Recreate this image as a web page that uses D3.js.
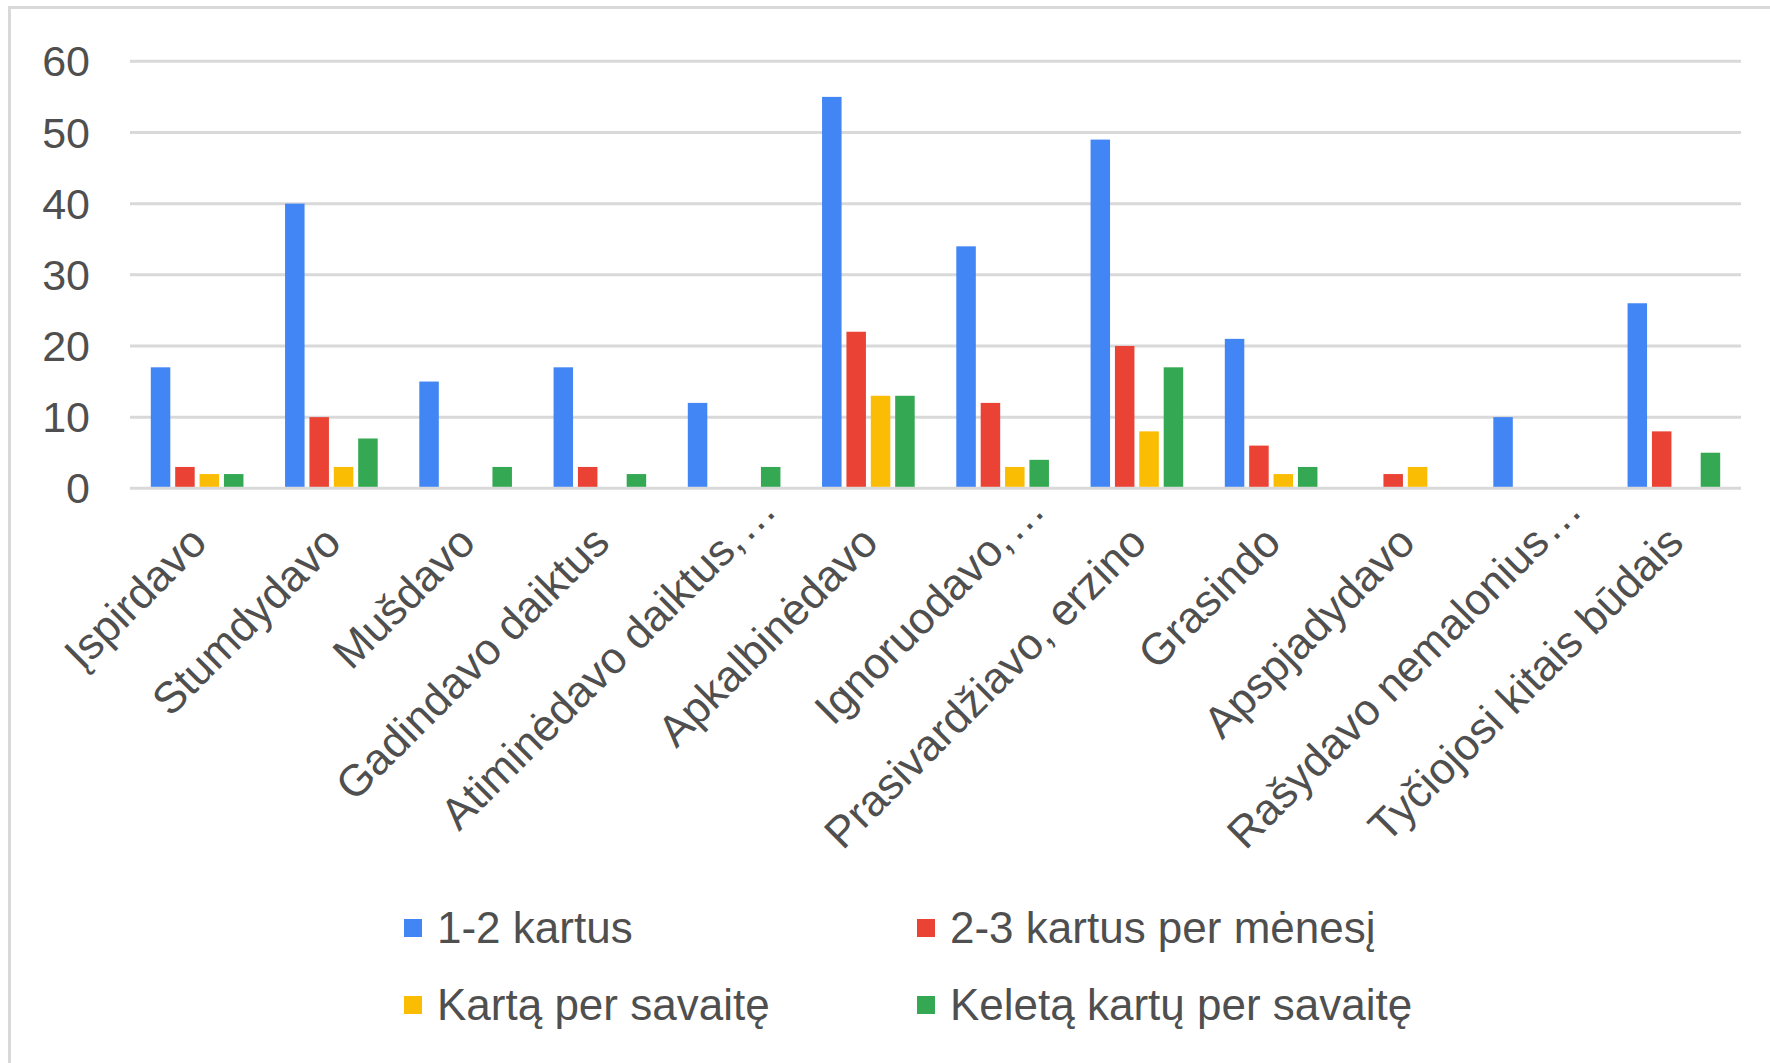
<!DOCTYPE html>
<html>
<head>
<meta charset="utf-8">
<script src="https://cdn.jsdelivr.net/npm/d3@7"></script>
<style>
  html, body { margin: 0; padding: 0; background: #ffffff; }
  svg { display: block; }
  text { font-family: "Liberation Sans", Arial, sans-serif; fill: #4f4f4f; }
</style>
</head>
<body>
<svg id="chart" width="1770" height="1063"></svg>
<script>
const categories = [
  "Įspirdavo", "Stumdydavo", "Mušdavo", "Gadindavo daiktus",
  "Atiminėdavo daiktus,…", "Apkalbinėdavo", "Ignoruodavo,…",
  "Prasivardžiavo, erzino", "Grasindo", "Apspjadydavo",
  "Rašydavo nemalonius…", "Tyčiojosi kitais būdais"
];
const seriesNames = ["1-2 kartus", "2-3 kartus per mėnesį", "Kartą per savaitę", "Keletą kartų per savaitę"];
const seriesColors = ["#4285F4", "#EA4335", "#FBBC04", "#34A853"];
const s1 = [17, 40, 15, 17, 12, 55, 34, 49, 21, 0, 10, 26];
const s2 = [3, 10, 0, 3, 0, 22, 12, 20, 6, 2, 0, 8];
const s3 = [2, 3, 0, 0, 0, 13, 3, 8, 2, 3, 0, 0];
const s4 = [2, 7, 3, 2, 3, 13, 4, 17, 3, 0, 0, 5];
const yTicks = [0, 10, 20, 30, 40, 50, 60];

(function () {
const seriesValues = [s1, s2, s3, s4];
const svg = d3.select("#chart");

svg.append("rect").attr("x", 0).attr("y", 0).attr("width", 1770).attr("height", 1063).attr("fill", "#fff");
svg.append("rect").attr("x", 9.5).attr("y", 7.5).attr("width", 1800).attr("height", 1100)
  .attr("fill", "none").attr("stroke", "#d9d9d9").attr("stroke-width", 3);

const pLeft = 130, pRight = 1741, pTop = 61.3, pBottom = 488.3;
const y = d3.scaleLinear().domain([0, 60]).range([pBottom, pTop]);
const x0 = d3.scaleBand().domain(categories).range([pLeft, pRight]).paddingInner(0.31).paddingOuter(0.155);
const x1 = d3.scaleBand().domain(seriesNames).range([0, x0.bandwidth()]).paddingInner(0.2).paddingOuter(0);

svg.append("g").selectAll("line").data(yTicks).join("line")
  .attr("x1", pLeft).attr("x2", pRight)
  .attr("y1", d => y(d)).attr("y2", d => y(d))
  .attr("stroke", "#d9d9d9").attr("stroke-width", 3);

svg.append("g").selectAll("text").data(yTicks).join("text")
  .attr("x", 90).attr("y", d => y(d)).attr("dy", "0.35em")
  .attr("text-anchor", "end").style("font-size", "43px")
  .text(d => d);

const rows = categories.map((c, i) => ({ cat: c, vals: seriesValues.map((s, k) => ({ name: seriesNames[k], v: s[i], k })) }));
const groups = svg.append("g").selectAll("g").data(rows).join("g")
  .attr("transform", d => `translate(${x0(d.cat)},0)`);
groups.selectAll("rect").data(d => d.vals.filter(e => e.v > 0)).join("rect")
  .attr("x", d => x1(d.name)).attr("width", x1.bandwidth())
  .attr("y", d => y(d.v)).attr("height", d => y(0) - y(d.v) - 1.5)
  .attr("fill", d => seriesColors[d.k]);

const lab = svg.append("g").selectAll("g").data(categories).join("g")
  .attr("transform", d => `translate(${x0(d) + x0.bandwidth() / 2 + 12},545) rotate(-45)`);
lab.append("text").attr("text-anchor", "end").style("font-size", "44px")
  .text(d => d.endsWith("…") ? d.slice(0, -1) : d);
lab.filter(d => d.endsWith("…")).append("text").attr("text-anchor", "start").style("font-size", "44px")
  .attr("x", 2).style("letter-spacing", "2px").text("…");

const legPos = [[404, 928], [917, 928], [404, 1005], [917, 1005]];
const leg = svg.append("g").selectAll("g").data(seriesNames).join("g")
  .attr("transform", (d, i) => `translate(${legPos[i][0]},${legPos[i][1]})`);
leg.append("rect").attr("x", 0).attr("y", -9).attr("width", 18).attr("height", 18)
  .attr("fill", (d, i) => seriesColors[i]);
leg.append("text").attr("x", 33).attr("dy", "0.35em").style("font-size", "44px").text(d => d);
})();
</script>
</body>
</html>
